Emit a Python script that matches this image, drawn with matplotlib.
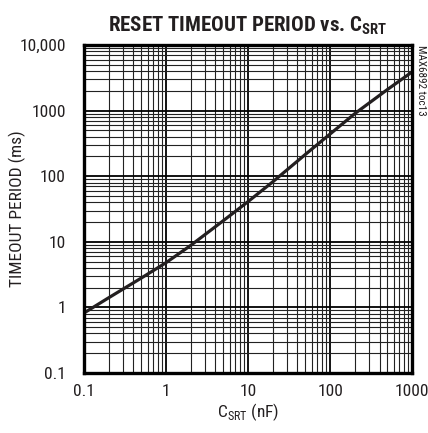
import numpy as np
import matplotlib
matplotlib.use("Agg")
import matplotlib.pyplot as plt
from matplotlib.ticker import LogLocator, NullFormatter, FixedLocator
from matplotlib import font_manager

# values
c_srt = [0.1, 0.2, 0.5, 1, 2, 5, 10, 20, 50, 100, 200, 500, 1000]
timeout_ms = [0.82, 1.4, 2.8, 4.8, 8.8, 21, 41, 82, 215, 440, 900, 2100, 3900]

x_ticks = [0.1, 1, 10, 100, 1000]
x_labels = ["0.1", "1", "10", "100", "1000"]
y_ticks = [0.1, 1, 10, 100, 1000, 10000]
y_labels = ["0.1", "1", "10", "100", "1000", "10,000"]

installed = {f.name for f in font_manager.fontManager.ttflist}
narrow = [n for n in ["Liberation Sans Narrow", "Roboto Condensed", "Open Sans Condensed"] if n in installed]
fam = narrow[:1] + ["Liberation Sans", "DejaVu Sans"]
main = fam[0]
plt.rcParams["font.family"] = fam
plt.rcParams["mathtext.fontset"] = "custom"
plt.rcParams["mathtext.rm"] = main
plt.rcParams["mathtext.bf"] = main + ":bold"

fs = 12.5 if narrow else 10.5

fig = plt.figure(figsize=(4.28, 4.33), dpi=100)
ax = fig.add_axes([0.196, 0.1386, 0.767, 0.7574])

ax.set_xscale("log")
ax.set_yscale("log")
ax.set_xlim(0.1, 1000)
ax.set_ylim(0.1, 10000)

ax.xaxis.set_major_locator(FixedLocator(x_ticks))
ax.yaxis.set_major_locator(FixedLocator(y_ticks))
ax.set_xticklabels(x_labels)
ax.set_yticklabels(y_labels)
ax.xaxis.set_minor_locator(LogLocator(base=10, subs=np.arange(2, 10), numticks=20))
ax.yaxis.set_minor_locator(LogLocator(base=10, subs=np.arange(2, 10), numticks=20))
ax.xaxis.set_minor_formatter(NullFormatter())
ax.yaxis.set_minor_formatter(NullFormatter())

ax.grid(which="major", color="black", lw=1.3)
ax.grid(which="minor", color="#222222", lw=0.8)
ax.tick_params(which="both", length=0, labelsize=fs, colors="#231f20")
ax.tick_params(axis="y", pad=13)
ax.tick_params(axis="x", pad=8)
ax.set_axisbelow(True)

for s in ax.spines.values():
    s.set_linewidth(2.4)

ax.plot(c_srt, timeout_ms, color="#231f20", lw=2.3, solid_capstyle="butt")

ax.set_xlabel(r"C$_{\mathrm{SRT}}$ (nF)", fontsize=fs, color="#231f20")
ax.set_ylabel("TIMEOUT PERIOD (ms)", fontsize=fs, color="#231f20")
ax.yaxis.set_label_coords(-0.175, 0.5)
ax.xaxis.set_label_coords(0.5, -0.085)
ax.set_title(r"RESET TIMEOUT PERIOD vs. C$_{\mathbf{SRT}}$", fontsize=15,
             fontweight="bold", pad=10, color="#231f20")

fig.text(0.984, 0.896, "MAX6892 toc13", rotation=270, fontsize=8,
         ha="center", va="top", color="#231f20")

fig.savefig("out.png", dpi=100)
